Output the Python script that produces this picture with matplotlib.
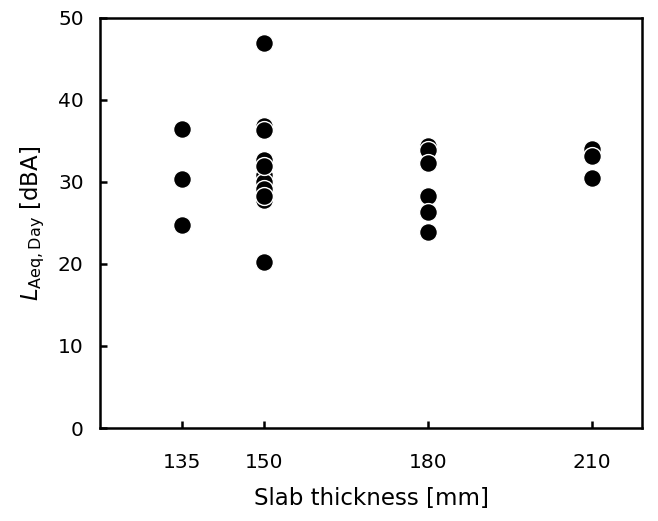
import matplotlib
matplotlib.use("Agg")
import matplotlib.pyplot as plt

# Measured day-time sound levels grouped by slab thickness
thickness_135 = [36.5, 30.4, 24.7]
thickness_150 = [46.9, 36.8, 36.4, 32.7, 30.9, 30.0, 29.2, 27.8, 31.9, 28.3, 20.2]
thickness_180 = [34.4, 33.9, 32.3, 28.3, 26.3, 23.9]
thickness_210 = [34.0, 33.2, 30.5]

groups = {135: thickness_135, 150: thickness_150, 180: thickness_180, 210: thickness_210}
x_ticks = [135, 150, 180, 210]
y_ticks = [0, 10, 20, 30, 40, 50]

plt.rcParams['font.family'] = ['DejaVu Sans']

fig = plt.figure(figsize=(6.58, 5.21), dpi=100)
ax = fig.add_axes([0.1526, 0.1785, 0.823, 0.787])

for x, vals in groups.items():
    ax.scatter([x] * len(vals), vals, s=165, color='black',
               edgecolors='white', linewidths=1.0, zorder=3)

ax.set_xlim(120, 219.2)
ax.set_ylim(0, 50)
ax.set_xticks(x_ticks)
ax.set_yticks(y_ticks)

for sp in ax.spines.values():
    sp.set_linewidth(1.8)
    sp.set_color('black')

ax.tick_params(axis='x', direction='in', length=5, width=1.8, pad=18,
               labelsize=14.5)
ax.tick_params(axis='y', direction='in', length=5, width=1.8, pad=12,
               labelsize=14.5)

ax.set_xlabel('Slab thickness [mm]', fontsize=16.5, labelpad=11)
ax.set_ylabel(r'$L_{\mathrm{Aeq,Day}}$ [dBA]', fontsize=16.5, labelpad=8)

fig.savefig('out.png', dpi=100)
